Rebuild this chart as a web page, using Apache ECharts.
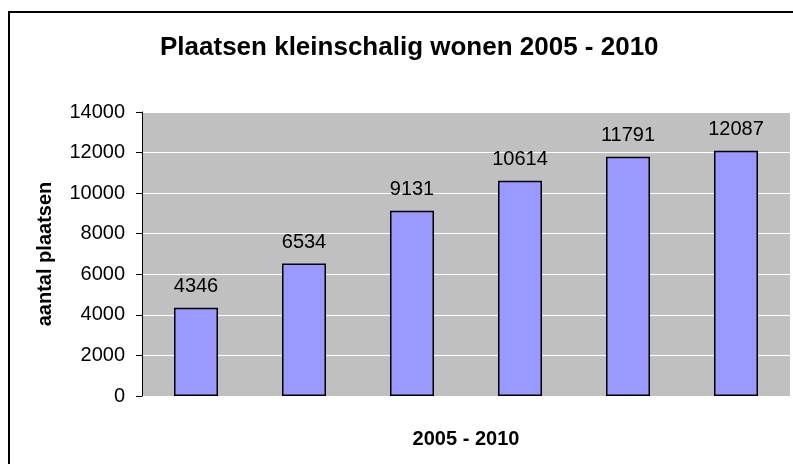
<!DOCTYPE html>
<html>
<head>
<meta charset="utf-8">
<script src="https://cdn.jsdelivr.net/npm/echarts@6/dist/echarts.min.js"></script>
<style>
  html, body { margin: 0; padding: 0; background: #fff; }
  #chart { width: 793px; height: 464px; }
</style>
</head>
<body>
<div id="chart"></div>
<script>
// jaren (geen labels zichtbaar op de as)
const years = ['2005', '2006', '2007', '2008', '2009', '2010'];
const plaatsen = [4346, 6534, 9131, 10614, 11791, 12087];
const yMin = 0, yMax = 14000, yStep = 2000;

const FONT = 'Arial, "Liberation Sans", sans-serif';

const chart = echarts.init(document.getElementById('chart'));

const option = {
    backgroundColor: '#ffffff',
    animation: false,
    title: {
        text: 'Plaatsen kleinschalig wonen 2005 - 2010',
        left: 155,
        top: 30,
        textStyle: { fontFamily: FONT, fontSize: 26, fontWeight: 'bold', color: '#000' }
    },
    // buitenkader
    graphic: [{
        type: 'rect',
        shape: { x: 9, y: 12, width: 900, height: 600 },
        style: { fill: 'none', stroke: '#000', lineWidth: 2 },
        silent: true
    }],
    grid: {
        left: 142, right: 3, top: 112, bottom: 68,
        show: true,
        backgroundColor: '#c0c0c0',
        borderWidth: 0
    },
    xAxis: {
        type: 'category',
        data: years,
        name: '2005 - 2010',
        nameLocation: 'middle',
        nameGap: 33,
        nameTextStyle: { fontFamily: FONT, fontSize: 20, fontWeight: 'bold', color: '#000' },
        axisLine: { show: false },
        axisTick: { show: false },
        axisLabel: { show: false }
    },
    yAxis: {
        type: 'value',
        min: yMin, max: yMax, interval: yStep,
        name: 'aantal plaatsen',
        nameLocation: 'middle',
        nameGap: 87,
        nameTextStyle: { fontFamily: FONT, fontSize: 20, fontWeight: 'bold', color: '#000' },
        axisLine: { show: true, lineStyle: { color: '#000', width: 1 } },
        axisTick: { show: true, length: 6, lineStyle: { color: '#000' } },
        axisLabel: {
            margin: 17, fontFamily: FONT, fontSize: 20, color: '#000',
            formatter: v => String(v)
        },
        splitLine: { show: true, lineStyle: { color: '#ffffff', width: 1 } }
    },
    series: [{
        type: 'bar',
        data: plaatsen,
        barWidth: 44,
        itemStyle: { color: '#9999ff', borderColor: '#000', borderWidth: 1.5 },
        label: {
            show: true,
            position: 'top',
            distance: 11,
            fontFamily: FONT,
            fontSize: 20,
            color: '#000'
        }
    }]
};

chart.setOption(option);
</script>
</body>
</html>
